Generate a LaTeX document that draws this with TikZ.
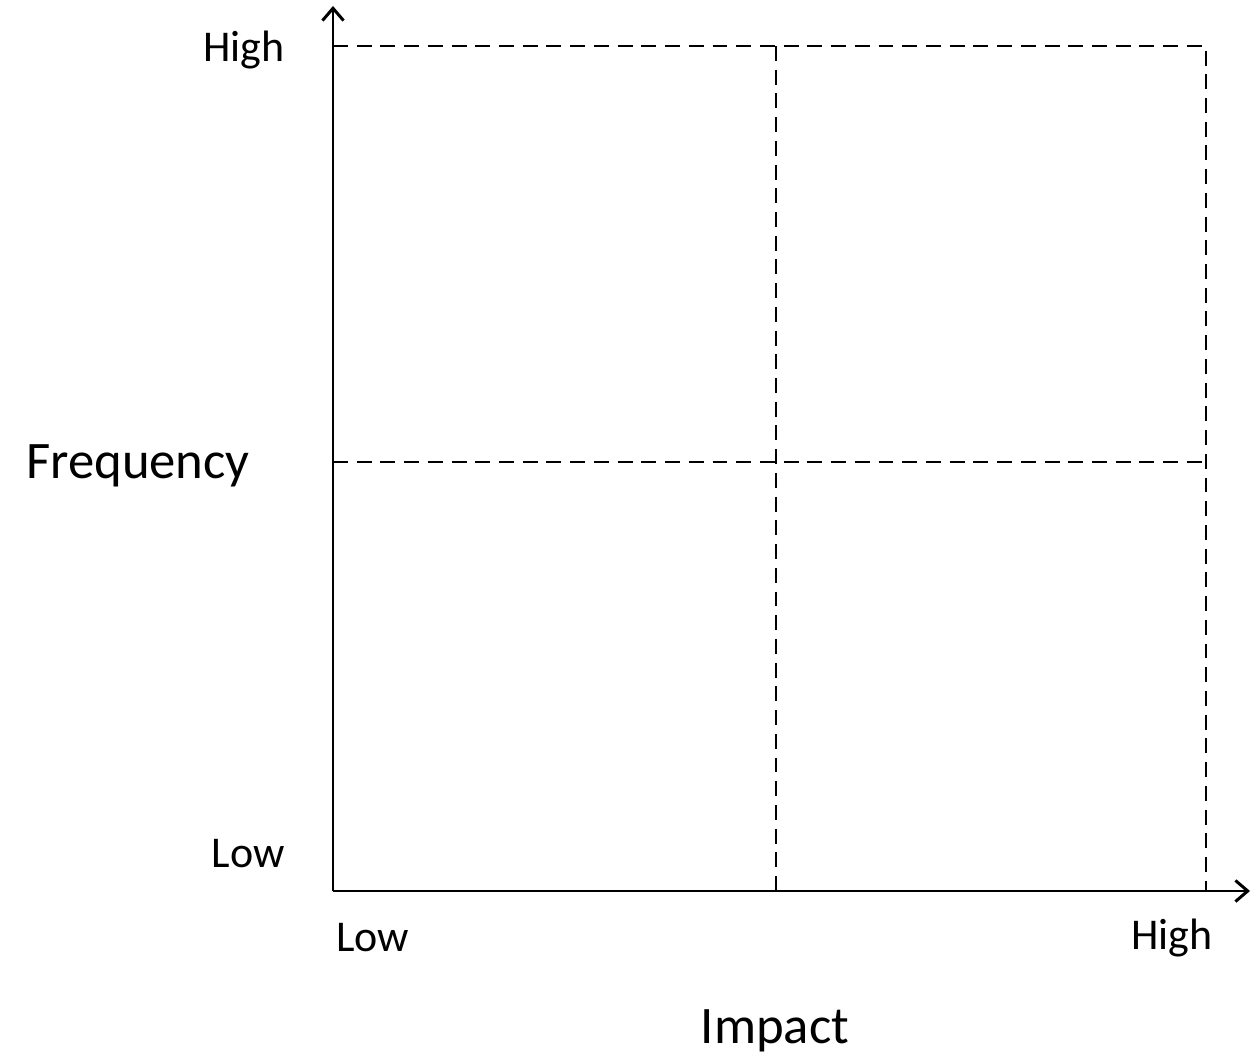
\documentclass[tikz,border=0pt]{standalone}
\usepackage{fontspec}
\setmainfont{Carlito}
\usetikzlibrary{arrows.meta}

\begin{document}
\begin{tikzpicture}[x=0.02cm,y=0.02cm,
    axis/.style={line width=1.7pt,-{Straight Barb[length=7pt,width=12pt,line width=1.7pt]}},
    grid/.style={line width=1.4pt,dash pattern=on 8.5pt off 5pt},
    small/.style={font=\fontsize{25}{30}\selectfont,inner sep=0pt},
    big/.style={font=\fontsize{30}{36}\selectfont,inner sep=0pt}]
    \useasboundingbox (0,0) rectangle (1256,1058);
    % axes
    \coordinate (origin) at (333,167);
    \coordinate (ytop) at (333,1052);
    \coordinate (xend) at (1250,167);
    \draw[axis] (origin) -- (ytop);
    \draw[axis] (origin) -- (xend);
    % quadrant lines
    \coordinate (tl) at (333,1012);
    \coordinate (tm) at (776,1012);
    \coordinate (tr) at (1206,1012);
    \coordinate (ml) at (333,596);
    \coordinate (mr) at (1206,596);
    \coordinate (bm) at (776,167);
    \coordinate (br) at (1206,167);
    \draw[grid] (tl) -- (tr) -- (br);
    \draw[grid] (tm) -- (bm);
    \draw[grid] (ml) -- (mr);
    % labels
    \node[small,anchor=east] (yhigh) at (285,1008) {High};
    \node[small,anchor=east] (ylow) at (285,204) {Low};
    \node[small,anchor=west] (xlow) at (336,120) {Low};
    \node[small,anchor=east] (xhigh) at (1213,120) {High};
    \node[big] (freq) at (138,592) {Frequency};
    \node[big] (impact) at (775,27) {Impact};
\end{tikzpicture}
\end{document}
